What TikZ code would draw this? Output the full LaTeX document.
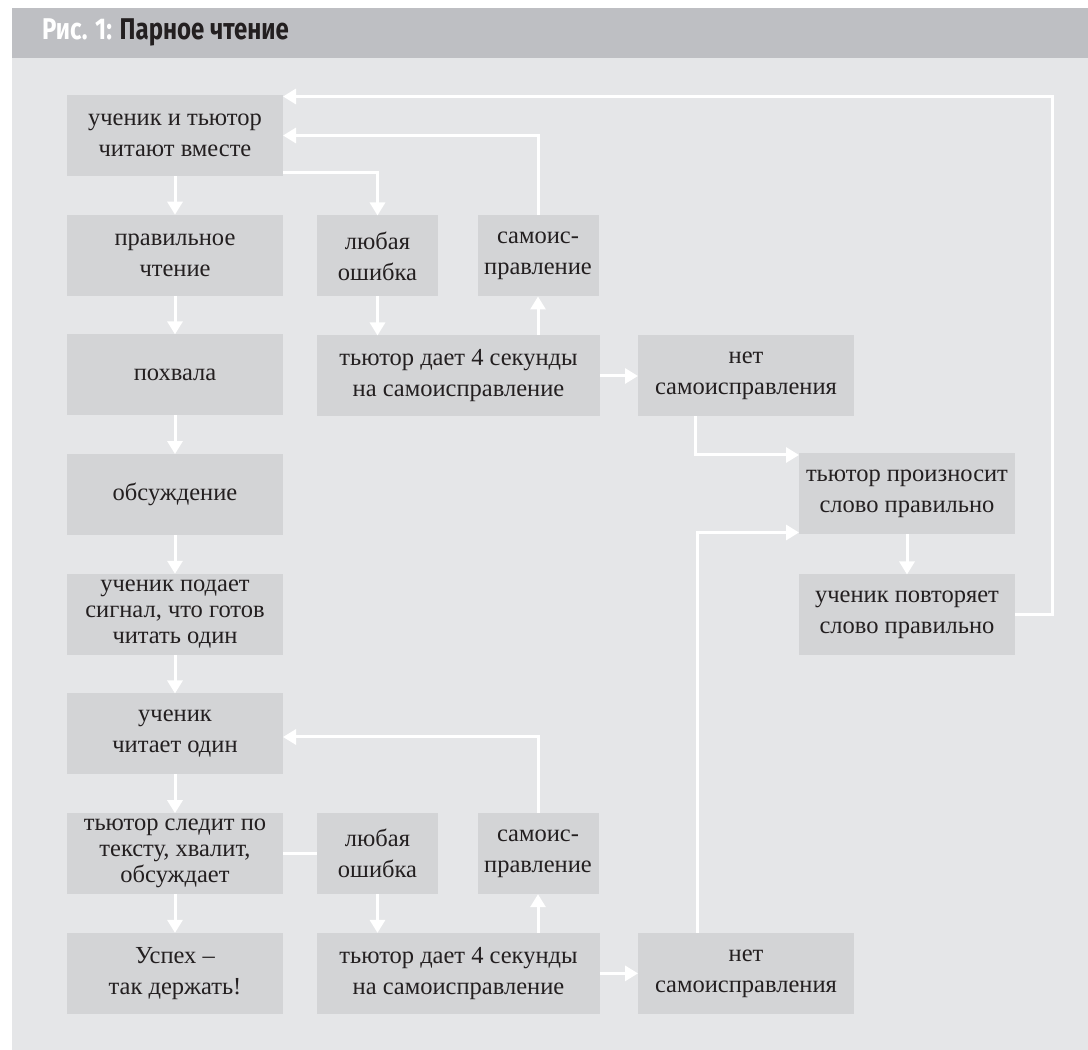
\documentclass[tikz,border=0pt]{standalone}
\usepackage{fontspec}
\setmainfont{Liberation Serif}
\newfontfamily\headfont[FakeStretch=0.8]{Fira Sans}
\usepackage{tikz}
\usetikzlibrary{arrows.meta}
\definecolor{paper}{HTML}{E5E6E8}
\definecolor{band}{HTML}{BEBFC3}
\definecolor{cell}{HTML}{D3D4D6}
\definecolor{ink}{HTML}{231F20}
\tikzset{
  box/.style      = {fill=cell, inner sep=0pt, outer sep=0pt, minimum height=81pt, align=center,
                     font=\fontsize{24.5}{31}\selectfont\color{ink}},
  boxwide/.style  = {box, minimum width=216pt},
  boxsm/.style    = {box, minimum width=121pt},
  boxlong/.style  = {box, minimum width=283pt},
  tight/.style    = {font=\fontsize{24.5}{26}\selectfont\color{ink}},
  headline/.style = {font=\headfont\fontsize{30}{32}\selectfont\bfseries\color{ink}, anchor=base west, inner sep=0pt, outer sep=0pt},
  flow/.style     = {-{Triangle[length=13pt,width=15pt]}, draw=white, line width=3pt},
  link/.style     = {draw=white, line width=3pt},
}
\begin{document}
\begin{tikzpicture}[x=1pt,y=1pt]
\path[use as bounding box] (0,0) rectangle (1088,1050);

% ---- frame ---------------------------------------------------------------
\fill[paper] (12,0) rectangle (1088,992);
\fill[band]  (12,992) rectangle (1088,1042);
\node[headline] (title) at (42,1010) {\textcolor{white}{Рис. 1:} Парное чтение};

% ---- left column ---------------------------------------------------------
\node[boxwide] (read)   at (175,914.5) {ученик и тьютор\\читают вместе};
\node[boxwide] (right)  at (175,794.8) {правильное\\чтение};
\node[boxwide] (praise) at (175,675.1) {похвала};
\node[boxwide] (talk)   at (175,555.4) {обсуждение};
\node[boxwide, tight] (signal) at (175,435.7) {ученик подает\\сигнал, что готов\\читать один};
\node[boxwide] (alone)  at (175,316.0) {ученик\\читает один};
\node[boxwide, tight] (watch)  at (175,196.3) {тьютор следит по\\тексту, хвалит,\\обсуждает};
\node[boxwide] (win)    at (175,76.6)  {Успех –\\так держать!};

% ---- reading together: error branch --------------------------------------
\node[boxsm]   (err1)  at (377.5,794) {любая\\ошибка};
\node[boxsm]   (self1) at (538,794)   {самоис-\\правление};
\node[boxlong] (wait1) at (458.5,674) {тьютор дает 4 секунды\\на самоисправление};
\node[boxwide] (none1) at (746,674)   {нет\\самоисправления};
\node[boxwide] (say)    at (907,556)  {тьютор произносит\\слово правильно};
\node[boxwide] (repeat) at (907,435)  {ученик повторяет\\слово правильно};

% ---- reading alone: error branch -----------------------------------------
\node[boxsm]   (err2)  at (377.5,196.3) {любая\\ошибка};
\node[boxsm]   (self2) at (538,196.3)   {самоис-\\правление};
\node[boxlong] (wait2) at (458.5,76.6)  {тьютор дает 4 секунды\\на самоисправление};
\node[boxwide] (none2) at (746,76.6)    {нет\\самоисправления};

% ---- connectors ----------------------------------------------------------
\draw[flow] (read.south)   -- (right.north);
\draw[flow] (right.south)  -- (praise.north);
\draw[flow] (praise.south) -- (talk.north);
\draw[flow] (talk.south)   -- (signal.north);
\draw[flow] (signal.south) -- (alone.north);
\draw[flow] (alone.south)  -- (watch.north);
\draw[flow] (watch.south)  -- (win.north);

\coordinate (readout) at ([yshift=3pt]read.south east);
\coordinate (topin)   at ([yshift=-1.5pt]read.north east);
\coordinate (rail)    at (1052,0);
\draw[flow] (readout) -| (err1.north);
\draw[flow] (err1.south) -- (err1.south |- wait1.north);
\draw[flow] (wait1.north -| self1.south) -- (self1.south);
\draw[flow] (self1.north) |- (read.east);
\draw[flow] (wait1.east) -- (none1.west);

\coordinate (drop)  at ([xshift=57pt]none1.south west);
\coordinate (sayin) at ([yshift=-1.5pt]say.north west);
\draw[flow] (drop) |- (sayin);
\draw[flow] (say.south) -- (repeat.north);
\draw[flow] (repeat.east) -| (rail |- topin) -- (topin);

\draw[link] (watch.east) -- (err2.west);
\draw[flow] (err2.south) -- (err2.south |- wait2.north);
\draw[flow] (wait2.north -| self2.south) -- (self2.south);
\coordinate (alonein) at ([yshift=-3pt]alone.east);
\draw[flow] (self2.north) |- (alonein);
\draw[flow] (wait2.east) -- (none2.west);

\coordinate (rise)   at ([xshift=59pt]none2.north west);
\coordinate (sayout) at ([yshift=2pt]say.south west);
\draw[flow] (rise) |- (sayout);

\end{tikzpicture}
\end{document}
